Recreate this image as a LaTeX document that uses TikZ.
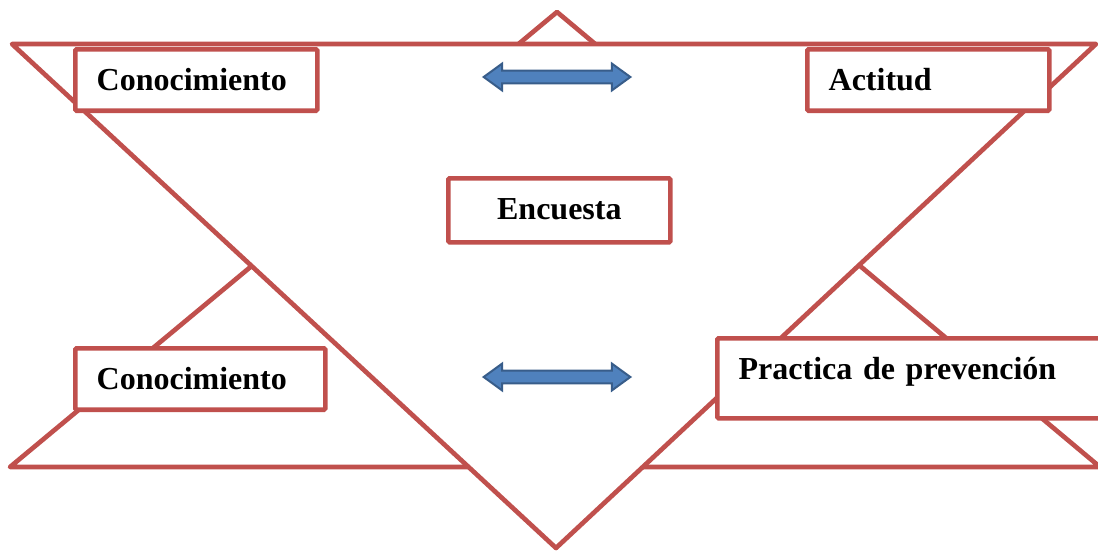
\documentclass[tikz,border=0pt]{standalone}
\usepackage{fontspec}
\setmainfont{Liberation Serif}
\usetikzlibrary{shapes.arrows}
\definecolor{rojo}{HTML}{C0504D}
\definecolor{azul}{HTML}{4F81BD}
\definecolor{azuloscuro}{HTML}{385D8A}
\tikzstyle{triangulo} = [draw=rojo, line width=3.5pt, line join=round]
\tikzstyle{etiqueta} = [rectangle, draw=rojo, fill=white, line width=3.5pt, rounded corners=1pt, font=\fontsize{24}{28}\selectfont\bfseries, align=left, inner xsep=16pt, inner ysep=0pt, text height=31pt, anchor=north west]
\tikzstyle{flecha} = [double arrow, draw=azuloscuro, fill=azul, line width=1.5pt, inner xsep=0pt, inner ysep=4.1pt, minimum height=110pt, double arrow head extend=5.25pt, double arrow tip angle=72]

\begin{document}
\begin{tikzpicture}[x=0.75pt, y=-0.75pt]
 \clip (0,0) rectangle (1098,550);
 % triangulos
 \draw[triangulo] (557,12) -- (10,467) -- (1100,467) -- cycle;
 \filldraw[triangulo, fill=white] (12,44) -- (1096,44) -- (556,548) -- cycle;

 \node (conocimientoA) [etiqueta, text width=149.5pt, text depth=15pt] at (73,47) {Conocimiento};
 \node (actitud) [etiqueta, text width=149.5pt, text depth=15pt] at (805,47) {Actitud};
 \node (encuesta) [etiqueta, text width=134.5pt, text depth=17pt, align=center] at (446,176) {Encuesta};
 \node (conocimientoB) [etiqueta, text width=155.5pt, text depth=15pt] at (73,346) {Conocimiento};
 \node (practica) [etiqueta, text width=264pt, text depth=29pt] at (715,336) {Practica de prevención};

 \node (flechaA) [flecha] at (557,77) {};
 \node (flechaB) [flecha] at (557,377) {};
\end{tikzpicture}
\end{document}
